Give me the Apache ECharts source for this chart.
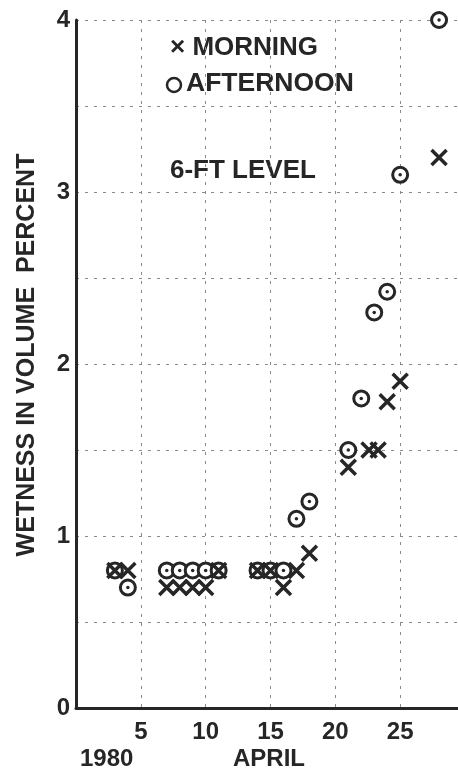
<!DOCTYPE html>
<html>
<head>
<meta charset="utf-8">
<script src="https://cdn.jsdelivr.net/npm/echarts@6/dist/echarts.min.js"></script>
<style>
  html, body { margin: 0; padding: 0; background: #fff; }
  #chart { width: 458px; height: 776px; }
</style>
</head>
<body>
<div id="chart"></div>
<script>
// days of April 1980
const morningDays = [3, 4, 7, 8, 9, 10, 11, 14, 15, 16, 17, 18, 21, 22.6, 23.3, 24, 25, 28]
const morningValues = [0.8, 0.8, 0.7, 0.7, 0.7, 0.7, 0.8, 0.8, 0.8, 0.7, 0.8, 0.9, 1.4, 1.5, 1.5, 1.78, 1.9, 3.2]
const afternoonDays = [3, 4, 7, 8, 9, 10, 11, 14, 15, 16, 17, 18, 21, 22, 23, 24, 25, 28]
const afternoonValues = [0.8, 0.7, 0.8, 0.8, 0.8, 0.8, 0.8, 0.8, 0.8, 0.8, 1.1, 1.2, 1.5, 1.8, 2.3, 2.42, 3.1, 4.0]
const xTicks = [5, 10, 15, 20, 25]
const yTicks = [0, 1, 2, 3, 4]

const ink = '#262626'
const font = 'Liberation Sans, Arial, sans-serif'

const morning = morningDays.map((d, i) => [d, morningValues[i]])
const afternoon = afternoonDays.map((d, i) => [d, afternoonValues[i]])

const chart = echarts.init(document.getElementById('chart'))

chart.setOption({
  animation: false,
  // plot runs past the right edge of the page, as in the scan
  grid: { left: 76, right: -7, top: 20, bottom: 68, outerBoundsMode: 'none' },
  xAxis: {
    type: 'value',
    min: 0,
    max: 30,
    interval: 5,
    axisLine: { show: true, onZero: false, lineStyle: { color: ink, width: 3 } },
    axisTick: { show: false },
    axisLabel: {
      margin: 12,
      color: ink,
      fontFamily: font,
      fontWeight: 'bold',
      fontSize: 24,
      formatter: v => (xTicks.includes(v) ? String(v) : ''),
    },
    splitLine: { show: true, lineStyle: { color: '#8a8a8a', type: [3, 6], width: 1 } },
  },
  yAxis: {
    type: 'value',
    min: 0,
    max: 4,
    interval: 0.5,
    axisLine: { show: true, lineStyle: { color: ink, width: 3 } },
    axisTick: { show: false },
    axisLabel: {
      margin: 6,
      color: ink,
      fontFamily: font,
      fontWeight: 'bold',
      fontSize: 24,
      formatter: v => (yTicks.includes(v) ? String(v) : ''),
    },
    splitLine: { show: true, lineStyle: { color: '#8a8a8a', type: [3, 6], width: 1 } },
  },
  graphic: [
    {
      type: 'text',
      left: 170,
      top: 35,
      style: { text: '× MORNING', fill: ink, font: 'bold 26px ' + font },
    },
    {
      type: 'circle',
      shape: { cx: 174, cy: 85, r: 7 },
      style: { fill: 'none', stroke: ink, lineWidth: 2.5 },
    },
    {
      type: 'text',
      left: 186,
      top: 70,
      style: { text: 'AFTERNOON', fill: ink, font: 'bold 26.5px ' + font },
    },
    {
      type: 'text',
      left: 170,
      top: 158,
      style: { text: '6-FT LEVEL', fill: ink, font: 'bold 26px ' + font },
    },
    {
      type: 'text',
      x: 27,
      y: 355,
      rotation: Math.PI / 2,
      style: {
        text: 'WETNESS IN VOLUME  PERCENT',
        fill: ink,
        font: 'bold 25px ' + font,
        align: 'center',
        verticalAlign: 'middle',
      },
    },
    {
      type: 'text',
      left: 80,
      top: 747,
      style: { text: '1980', fill: ink, font: 'bold 24px ' + font },
    },
    {
      type: 'text',
      left: 233,
      top: 747,
      style: { text: 'APRIL', fill: ink, font: 'bold 24px ' + font },
    },
  ],
  series: [
    {
      name: 'AFTERNOON',
      type: 'scatter',
      data: afternoon,
      symbol: 'circle',
      symbolSize: 15,
      itemStyle: { color: '#fff', borderColor: ink, borderWidth: 3, opacity: 1 },
      z: 2,
    },
    {
      name: 'AFTERNOON dot',
      type: 'scatter',
      data: afternoon,
      symbol: 'circle',
      symbolSize: 3.5,
      itemStyle: { color: ink, opacity: 1 },
      z: 3,
    },
    {
      name: 'MORNING',
      type: 'scatter',
      data: morning,
      symbol: 'path://M0,0L10,10M0,10L10,0',
      symbolSize: 15,
      itemStyle: { color: 'transparent', borderColor: ink, borderWidth: 3.5, opacity: 1 },
      z: 4,
    },
  ],
})
</script>
</body>
</html>
